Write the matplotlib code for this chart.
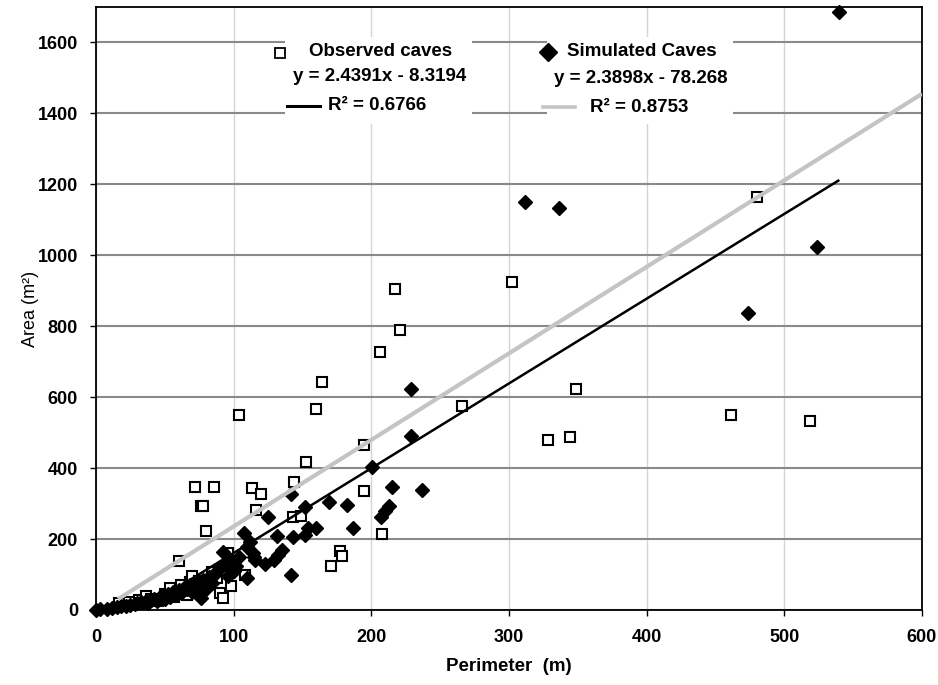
import numpy as np
import matplotlib
matplotlib.use('Agg')
import matplotlib.pyplot as plt
from matplotlib.patches import Rectangle
from matplotlib.lines import Line2D

# ======================================================================
#  Datos
# ======================================================================
# Cuevas observadas (cuadrados vacíos): perímetro (m), área (m2)
obs_perimeter = [17, 24, 31, 36, 40, 45, 50, 54, 57, 60, 62, 66, 68, 70,
                 72, 75, 75, 76, 78, 80, 84, 86, 88, 90, 92, 95, 96, 98,
                 104, 108, 113, 116.5, 120, 143, 144, 149, 152.5, 160, 164,
                 171, 177, 178.5, 195, 195, 206, 208, 217, 221, 266, 302,
                 328, 344, 349, 461, 480, 519]
obs_area = [21, 23, 28, 39, 30, 25, 45, 61, 38, 137, 70, 42, 80, 95,
            347, 66, 83, 293, 293, 223, 108, 347, 89, 49, 33, 103, 160, 68,
            549, 99, 345, 283, 328, 263, 362, 265, 417, 566, 643,
            124, 167, 153, 465, 336, 728, 215, 904, 790, 575, 925,
            479, 488, 622, 549, 1164, 533]

# Cuevas simuladas (rombos negros)
sim_perimeter = [0, 3, 8, 12, 15, 18, 22, 25, 28, 30, 33, 36, 38, 40, 42,
                 44, 46, 48, 50, 52, 54, 56, 58, 60, 62, 64, 66, 68, 70,
                 72, 74, 76, 78, 80, 82, 84, 86, 88, 90, 92, 94, 96, 98,
                 100, 102, 104, 107.5, 109.4, 110, 112, 114.3, 114.8, 115.5,
                 122.5, 124.7, 129.3, 132.4, 134.9, 131.7, 141.4, 141.4,
                 143.3, 151.8, 151.8, 154.2, 159.6, 169.2, 182.3, 186.4,
                 200.7, 207, 209.9, 213, 214.8, 229, 229, 237, 312, 336,
                 474, 524, 540]
sim_area = [0, 2, 4, 6, 9, 10, 12, 14, 16, 19, 22, 25, 20, 28, 32,
            26, 35, 40, 30, 45, 38, 50, 42, 55, 48, 62, 58, 70, 50,
            65, 78, 35, 85, 60, 92, 75, 100, 110, 120, 164, 130, 95, 140,
            110, 125, 150, 216, 178, 90, 192, 160, 150, 141,
            130, 261, 141, 155, 169, 209, 326, 100,
            205, 211, 289, 230, 230, 304, 296, 230,
            404, 263, 280, 293, 347, 624, 490, 338, 1150, 1133,
            836, 1023, 1685]

# Rectas de tendencia tal como aparecen en la figura
obs_fit = (2.4391, -8.3194)     # línea gris
sim_fit = (2.3898, -78.268)     # línea negra
obs_fit_range = (16, 600)
sim_fit_range = (0, 540)

x_ticks = np.arange(0, 601, 100)
y_ticks = np.arange(0, 1601, 200)

FONT = 'Liberation Sans'


def main():
    plt.rcParams['font.family'] = [FONT, 'DejaVu Sans']

    fig = plt.figure(figsize=(9.38, 6.85), dpi=100)
    ax = fig.add_axes([0.1023, 0.1095, 0.8806, 0.8803])

    # --- Rejilla ---
    ax.set_axisbelow(True)
    ax.yaxis.grid(True, color='#8a8a8a', linewidth=1.5, zorder=0)
    ax.xaxis.grid(True, color='#d4d4d4', linewidth=1.0, zorder=0)

    # --- Cajas blancas de la leyenda (tapan la rejilla) ---
    for x0, x1 in [(0.229, 0.455), (0.546, 0.771)]:
        ax.add_patch(Rectangle((x0, 0.806), x1 - x0, 0.144,
                               transform=ax.transAxes, facecolor='white',
                               edgecolor='none', zorder=1))

    # --- Puntos ---
    ax.plot(obs_perimeter, obs_area, linestyle='none', marker='s',
            markersize=7.2, markerfacecolor='white', markeredgecolor='black',
            markeredgewidth=1.5, zorder=3, clip_on=False)
    ax.plot(sim_perimeter, sim_area, linestyle='none', marker='D',
            markersize=7.2, markerfacecolor='black', markeredgecolor='black',
            zorder=3, clip_on=False)

    # --- Rectas de tendencia ---
    xg = np.array(obs_fit_range, dtype=float)
    ax.plot(xg, obs_fit[0] * xg + obs_fit[1], color='#c4c4c4',
            linewidth=3.0, solid_capstyle='butt', zorder=4)
    xb = np.array(sim_fit_range, dtype=float)
    ax.plot(xb, sim_fit[0] * xb + sim_fit[1], color='black',
            linewidth=1.8, solid_capstyle='butt', zorder=4)

    # --- Leyenda manual ---
    tkw = dict(transform=ax.transAxes, fontsize=13.5, fontweight='bold',
               va='center', zorder=6)
    ax.add_line(Line2D([0.223], [0.924], transform=ax.transAxes, marker='s',
                       markersize=7.5, markerfacecolor='white',
                       markeredgecolor='black', markeredgewidth=1.3,
                       zorder=6))
    ax.text(0.345, 0.927, 'Observed caves', ha='center', **tkw)
    ax.text(0.343, 0.884, 'y = 2.4391x - 8.3194', ha='center', **tkw)
    ax.add_line(Line2D([0.231, 0.271], [0.836, 0.836], transform=ax.transAxes,
                       color='black', linewidth=2.2, zorder=6))
    ax.text(0.281, 0.836, 'R² = 0.6766', ha='left', **tkw)

    ax.add_line(Line2D([0.547], [0.925], transform=ax.transAxes, marker='D',
                       markersize=9, color='black', zorder=6))
    ax.text(0.661, 0.927, 'Simulated Caves', ha='center', **tkw)
    ax.text(0.660, 0.882, 'y = 2.3898x - 78.268', ha='center', **tkw)
    ax.add_line(Line2D([0.541, 0.580], [0.834, 0.834], transform=ax.transAxes,
                       color='#c4c4c4', linewidth=2.6, zorder=6))
    ax.text(0.598, 0.834, 'R² = 0.8753', ha='left', **tkw)

    # --- Ejes ---
    ax.set_xlim(0, 600)
    ax.set_ylim(0, 1700)
    ax.set_xticks(x_ticks)
    ax.set_yticks(y_ticks)
    ax.tick_params(direction='out', length=4, width=1.0, labelsize=13)
    ax.tick_params(axis='x', pad=10)
    ax.tick_params(axis='y', pad=9)
    for lab in ax.get_xticklabels() + ax.get_yticklabels():
        lab.set_fontweight('bold')
    for sp in ax.spines.values():
        sp.set_linewidth(1.3)
        sp.set_color('black')

    ax.set_xlabel('Perimeter  (m)', fontsize=13.5, fontweight='bold',
                  labelpad=8)
    ax.set_ylabel('Area (m²)', fontsize=13, labelpad=-1)

    fig.savefig('out.png', dpi=100)


if __name__ == '__main__':
    main()
